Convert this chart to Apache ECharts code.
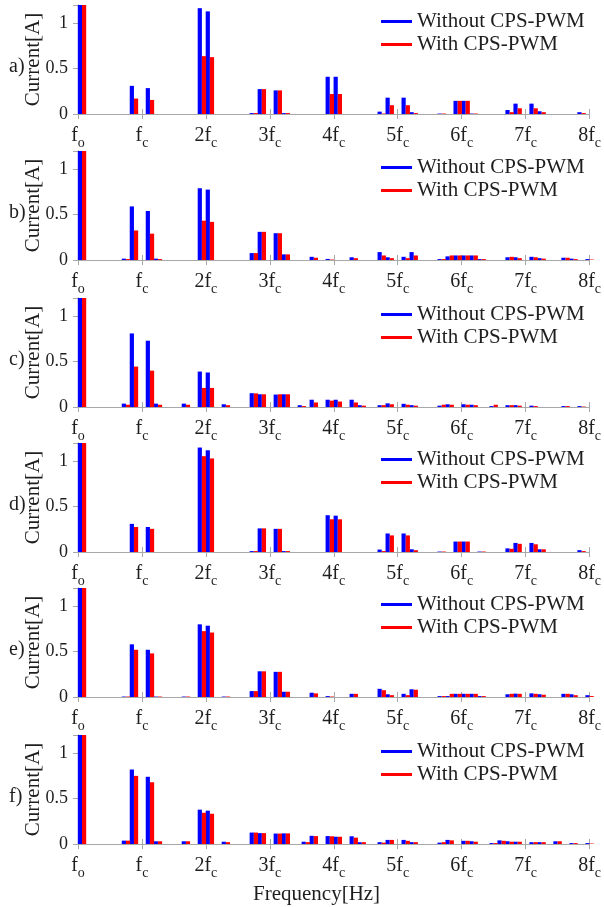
<!DOCTYPE html>
<html>
<head>
<meta charset="utf-8">
<script src="https://cdn.jsdelivr.net/npm/echarts@6/dist/echarts.min.js"></script>
<style>
    html, body { margin: 0; padding: 0; background: #fff; }
    #chart { width: 604px; height: 907px; }
</style>
</head>
<body>
<div id="chart"></div>
<script>
// x in harmonic order (fo = 1, fc = 16)
const tickLabels = ['{m|f}{s|o}', '{m|f}{s|c}', '{m|2f}{s|c}', '{m|3f}{s|c}', '{m|4f}{s|c}',
    '{m|5f}{s|c}', '{m|6f}{s|c}', '{m|7f}{s|c}', '{m|8f}{s|c}']
const seriesNames = ['Without CPS-PWM', 'With CPS-PWM']
const panelTags = ['a)', 'b)', 'c)', 'd)', 'e)', 'f)']

// a)
const ordersA = [1, 14, 18, 31, 33, 44, 46, 50, 52, 63, 65, 76, 78, 82, 84, 91, 95, 97, 99, 108, 110, 114, 116, 126]
const withoutA = [1.6, 0.31, 0.285, 1.165, 1.13, 0.01, 0.274, 0.26, 0.01, 0.41, 0.41, 0.026, 0.18, 0.18, 0.02, 0.005, 0.145, 0.145, 0.005, 0.044, 0.114, 0.114, 0.03, 0.02]
const withA = [1.6, 0.17, 0.155, 0.637, 0.626, 0.01, 0.274, 0.26, 0.01, 0.22, 0.22, 0.005, 0.097, 0.097, 0.01, 0.005, 0.145, 0.145, 0.005, 0.02, 0.063, 0.063, 0.02, 0.01]

// b)
const ordersB = [1, 12, 14, 18, 20, 31, 33, 44, 46, 50, 52, 59, 63, 69, 76, 78, 82, 84, 91, 93, 95, 97, 99, 101, 108, 110, 114, 116, 122, 124, 128]
const withoutB = [1.6, 0.015, 0.59, 0.54, 0.015, 0.79, 0.775, 0.076, 0.31, 0.295, 0.062, 0.035, 0.012, 0.03, 0.087, 0.03, 0.035, 0.087, 0.01, 0.04, 0.05, 0.05, 0.05, 0.01, 0.03, 0.03, 0.035, 0.02, 0.025, 0.015, 0.01]
const withB = [1.6, 0.01, 0.325, 0.29, 0.01, 0.433, 0.42, 0.076, 0.31, 0.295, 0.062, 0.025, 0.005, 0.02, 0.05, 0.02, 0.02, 0.05, 0.01, 0.05, 0.05, 0.05, 0.05, 0.01, 0.035, 0.02, 0.03, 0.015, 0.025, 0.01, 0.005]

// c)
const ordersC = [1, 12, 14, 18, 20, 27, 31, 33, 37, 44, 46, 50, 52, 56, 59, 63, 65, 69, 71, 76, 78, 82, 84, 91, 93, 97, 99, 104, 108, 110, 114, 122, 126]
const withoutC = [1.6, 0.037, 0.81, 0.73, 0.037, 0.037, 0.39, 0.38, 0.03, 0.152, 0.14, 0.137, 0.14, 0.02, 0.08, 0.08, 0.08, 0.08, 0.02, 0.02, 0.04, 0.035, 0.02, 0.015, 0.03, 0.03, 0.025, 0.01, 0.02, 0.02, 0.015, 0.01, 0.01]
const withC = [1.6, 0.025, 0.445, 0.40, 0.025, 0.025, 0.21, 0.21, 0.02, 0.15, 0.14, 0.14, 0.14, 0.01, 0.05, 0.07, 0.06, 0.05, 0.015, 0.02, 0.03, 0.025, 0.015, 0.025, 0.025, 0.025, 0.02, 0.025, 0.02, 0.015, 0.01, 0.01, 0.005]

// d)
const ordersD = [1, 14, 18, 31, 33, 44, 46, 50, 52, 63, 65, 76, 78, 82, 84, 91, 95, 97, 101, 108, 110, 114, 116, 126]
const withoutD = [1.6, 0.31, 0.275, 1.15, 1.12, 0.01, 0.26, 0.255, 0.01, 0.405, 0.40, 0.027, 0.204, 0.204, 0.03, 0.005, 0.115, 0.115, 0.005, 0.04, 0.10, 0.10, 0.03, 0.02]
const withD = [1.6, 0.275, 0.255, 1.055, 1.03, 0.01, 0.26, 0.255, 0.01, 0.36, 0.36, 0.01, 0.183, 0.183, 0.02, 0.005, 0.115, 0.115, 0.005, 0.035, 0.09, 0.085, 0.03, 0.01]

// e)
const ordersE = [1, 12, 14, 18, 20, 27, 31, 33, 37, 44, 46, 50, 52, 59, 63, 69, 76, 78, 82, 84, 91, 93, 95, 97, 99, 101, 108, 110, 114, 116, 122, 124, 128]
const withoutE = [1.6, 0.005, 0.58, 0.52, 0.005, 0.005, 0.80, 0.785, 0.005, 0.065, 0.283, 0.277, 0.058, 0.047, 0.01, 0.035, 0.09, 0.03, 0.035, 0.085, 0.01, 0.01, 0.035, 0.035, 0.035, 0.01, 0.03, 0.037, 0.04, 0.03, 0.035, 0.03, 0.02]
const withE = [1.6, 0.005, 0.52, 0.48, 0.005, 0.005, 0.725, 0.71, 0.005, 0.065, 0.283, 0.277, 0.058, 0.04, 0.005, 0.035, 0.075, 0.02, 0.02, 0.08, 0.01, 0.035, 0.035, 0.035, 0.035, 0.01, 0.035, 0.035, 0.035, 0.025, 0.035, 0.02, 0.01]

// f)
const ordersF = [1, 12, 14, 18, 20, 27, 31, 33, 37, 44, 46, 50, 52, 57, 59, 63, 65, 69, 71, 76, 78, 82, 84, 91, 93, 97, 99, 104, 106, 108, 110, 114, 116, 120, 124, 128]
const withoutF = [1.6, 0.037, 0.82, 0.74, 0.03, 0.03, 0.378, 0.367, 0.025, 0.126, 0.12, 0.115, 0.117, 0.025, 0.09, 0.087, 0.08, 0.085, 0.02, 0.02, 0.045, 0.045, 0.02, 0.015, 0.045, 0.035, 0.03, 0.01, 0.04, 0.03, 0.025, 0.02, 0.02, 0.03, 0.01, 0.01]
const withF = [1.6, 0.037, 0.75, 0.68, 0.03, 0.03, 0.344, 0.333, 0.02, 0.126, 0.12, 0.115, 0.117, 0.02, 0.087, 0.085, 0.08, 0.07, 0.02, 0.015, 0.045, 0.035, 0.02, 0.02, 0.04, 0.035, 0.025, 0.01, 0.035, 0.025, 0.025, 0.02, 0.02, 0.03, 0.01, 0.005]

const panels = [
    [ordersA, withoutA, withA],
    [ordersB, withoutB, withB],
    [ordersC, withoutC, withC],
    [ordersD, withoutD, withD],
    [ordersE, withoutE, withE],
    [ordersF, withoutF, withF]
]

const serif = 'Liberation Serif'
const axisColor = '#a8a8a8'
const textColor = '#1e1e1e'
const gridTops = [5, 151, 298, 443, 588, 735]
const gridHeight = 109

const chart = echarts.init(document.getElementById('chart'))

const grid = [], xAxis = [], yAxis = [], series = [], legend = [], graphic = []
const lineStyle = { color: axisColor, width: 1 }

panels.forEach(([orders, without, withCps], i) => {
    const top = gridTops[i]
    grid.push({ left: 78, right: 8, top: top, height: gridHeight })

    // bottom axis with harmonic labels
    xAxis.push({
        gridIndex: i, type: 'value', min: 0, max: 128, interval: 16,
        axisLine: { show: true, lineStyle },
        axisTick: { show: true, inside: true, length: 5, lineStyle },
        splitLine: { show: false },
        axisLabel: {
            margin: 12,
            formatter: v => tickLabels[Math.round(v / 16)],
            rich: {
                m: { fontFamily: serif, fontSize: 20, color: textColor, verticalAlign: 'top', lineHeight: 20 },
                s: { fontFamily: serif, fontSize: 14, color: textColor, verticalAlign: 'top', lineHeight: 14, padding: [10, 0, 0, 0] }
            }
        }
    })
    // top axis (box)
    xAxis.push({
        gridIndex: i, type: 'value', position: 'top', min: 0, max: 128, interval: 16,
        axisLine: { show: true, lineStyle },
        axisTick: { show: true, inside: true, length: 5, lineStyle },
        axisLabel: { show: false },
        splitLine: { show: false }
    })
    yAxis.push({
        gridIndex: i, type: 'value', min: 0, max: 1.2, interval: 0.5,
        axisLine: { show: true, lineStyle },
        axisTick: { show: true, inside: true, length: 5, lineStyle },
        splitLine: { show: false },
        axisLabel: { showMaxLabel: false, margin: 10, fontFamily: serif, fontSize: 18, color: textColor },
        name: 'Current[A]',
        nameLocation: 'middle',
        nameGap: 34,
        nameMoveOverlap: false,
        nameTextStyle: { fontFamily: serif, fontSize: 21, color: textColor }
    })
    yAxis.push({
        gridIndex: i, type: 'value', position: 'right', min: 0, max: 1.2, interval: 0.5,
        axisLine: { show: true, lineStyle },
        axisTick: { show: true, inside: true, length: 5, lineStyle },
        axisLabel: { show: false },
        splitLine: { show: false }
    })

    series.push({
        name: seriesNames[0], type: 'bar', xAxisIndex: i * 2, yAxisIndex: i * 2,
        barWidth: 4.2, barGap: '0%',
        itemStyle: { color: '#0000ff' },
        data: orders.map((n, k) => [n, without[k]])
    })
    series.push({
        name: seriesNames[1], type: 'bar', xAxisIndex: i * 2, yAxisIndex: i * 2,
        barWidth: 4.2, barGap: '0%',
        itemStyle: { color: '#ff0000' },
        data: orders.map((n, k) => [n, withCps[k]])
    })

    legend.push({
        left: 381, top: top + 6, orient: 'vertical', padding: 0,
        itemWidth: 31, itemHeight: 3, itemGap: 2, icon: 'rect',
        selectedMode: false,
        textStyle: { fontFamily: serif, fontSize: 21, color: textColor },
        data: seriesNames
    })

    graphic.push({
        type: 'text', left: 9, top: top + 52,
        style: { text: panelTags[i], fontFamily: serif, fontSize: 20, fill: textColor }
    })
})

graphic.push({
    type: 'text', left: 253, top: 884,
    style: { text: 'Frequency[Hz]', fontFamily: serif, fontSize: 21, fill: textColor }
})

chart.setOption({
    animation: false,
    backgroundColor: '#fff',
    grid, xAxis, yAxis, series, legend, graphic
})
</script>
</body>
</html>
